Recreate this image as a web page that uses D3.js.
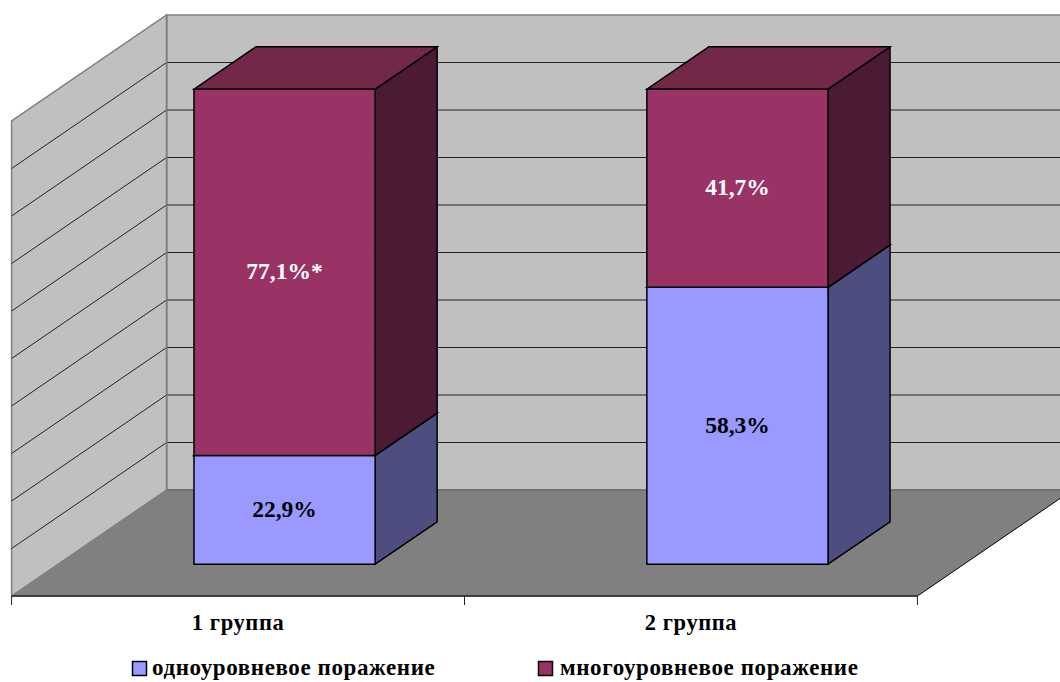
<!DOCTYPE html>
<html><head><meta charset="utf-8">
<script src="https://cdnjs.cloudflare.com/ajax/libs/d3/7.8.5/d3.min.js"></script>
<style>html,body{margin:0;padding:0;background:#fff;overflow:hidden}svg{display:block}
text{font-family:"Liberation Serif",serif;font-weight:bold}</style></head><body>
<svg id="c" width="1060" height="682"></svg>
<script>
const categories=["1 группа","2 группа"];
const seriesNames=["одноуровневое поражение","многоуровневое поражение"];
const single=[22.9,58.3];
const multi=[77.1,41.7];
const labelsSingle=["22,9%","58,3%"];
const labelsMulti=["77,1%*","41,7%"];
const gridValues=[10,20,30,40,50,60,70,80,90];
const front=["#9999ff","#993366"], side=["#4d4d80","#4d1a33"], topc=["#7a7aa8","#732849"];
const labelColor=["#000","#fff"];

const svg=d3.select("#c");
const x=d3.scaleBand().domain(categories).range([11.6,917.4]).paddingInner(0.6).paddingOuter(0.3);
const y=d3.scaleLinear().domain([0,100]).range([596,121]);
const dX=d3.scaleLinear().domain([0,1]).range([0,155]);
const dY=d3.scaleLinear().domain([0,1]).range([0,-106]);
const P=(px,v,z)=>[px+dX(z),y(v)+dY(z)];
const line=d3.line();
const poly=(pts,fill,stroke,sw)=>svg.append("path").attr("d",line(pts)+"Z").attr("fill",fill)
  .attr("stroke",stroke).attr("stroke-width",sw).attr("stroke-linejoin","miter");
const seg=(a,b,stroke,sw)=>svg.append("path").attr("d",line([a,b])).attr("fill","none").attr("stroke",stroke).attr("stroke-width",sw);
const [x0,x1]=x.range();

// walls and floor
poly([P(x0,0,1),P(x1,0,1),P(x1,100,1),P(x0,100,1)],"#c0c0c0","#808080",1.5);
poly([P(x0,0,0),P(x0,0,1),P(x0,100,1),P(x0,100,0)],"#c0c0c0","#808080",1.5);
poly([P(x0,0,0),P(x1,0,0),P(x1,0,1),P(x0,0,1)],"#808080","#808080",1);
gridValues.forEach(v=>{
  seg(P(x0,v,1),P(x1,v,1),"#222",1);
  seg(P(x0,v,0),P(x0,v,1),"#222",1);
});
seg(P(x0,0,1),P(x1,0,1),"#6e6e6e",1.5);
seg(P(x0,100,1),P(x0,0,1),"#808080",1.5);
seg(P(x1,0,0),P(x1,0,1),"#111",1);
seg(P(x0,0,0),P(x1,0,0),"#222",1.5);
// category boundary ticks on the front floor edge
const tickX=d3.scaleLinear().domain([0,categories.length]).range([x0,x1]);
d3.range(categories.length+1).forEach(i=>{
  svg.append("line").attr("x1",tickX(i)).attr("x2",tickX(i)).attr("y1",y(0)).attr("y2",y(0)+9)
    .attr("stroke","#222").attr("stroke-width",1);
});

// bars
const zNear=0.3,zFar=0.7;
const table=categories.map((c,i)=>({c,a:single[i],b:multi[i]}));
const stack=d3.stack().keys(["a","b"])(table);
stack.forEach((s,k)=>s.forEach((d,i)=>{
  const l=x(categories[i]),r=l+x.bandwidth(),v0=d[0],v1=d[1];
  poly([P(r,v0,zNear),P(r,v0,zFar),P(r,v1,zFar),P(r,v1,zNear)],side[k],"#000",1.5);
  poly([P(l,v1,zNear),P(r,v1,zNear),P(r,v1,zFar),P(l,v1,zFar)],topc[k],"#000",1.5);
  poly([P(l,v0,zNear),P(r,v0,zNear),P(r,v1,zNear),P(l,v1,zNear)],front[k],"#000",1.5);
}));
const bw=x.bandwidth();
[labelsSingle,labelsMulti].forEach((labs,k)=>labs.forEach((t,i)=>{
  const d=stack[k][i];
  const p=P(x(categories[i])+bw/2,(d[0]+d[1])/2,zNear);
  svg.append("text").attr("x",p[0]).attr("y",p[1]+7).attr("text-anchor","middle")
    .attr("font-size",23.5).attr("fill",labelColor[k]).text(t);
}));

// category labels
categories.forEach((c,i)=>{
  svg.append("text").attr("x",(tickX(i)+tickX(i+1))/2).attr("y",630).attr("text-anchor","middle")
    .attr("font-size",22.5).attr("letter-spacing",0.6).attr("fill","#000").text(c);
});
// legend
const legX=[132,538], legT=[152,560];
seriesNames.forEach((n,i)=>{
  svg.append("rect").attr("x",legX[i]+.5).attr("y",661.5).attr("width",14).attr("height",14)
    .attr("fill",front[i]).attr("stroke","#000").attr("stroke-width",1.5);
  svg.append("text").attr("x",legT[i]).attr("y",675).attr("font-size",23).attr("letter-spacing",0.6)
    .attr("fill","#000").text(n);
});
</script></body></html>
